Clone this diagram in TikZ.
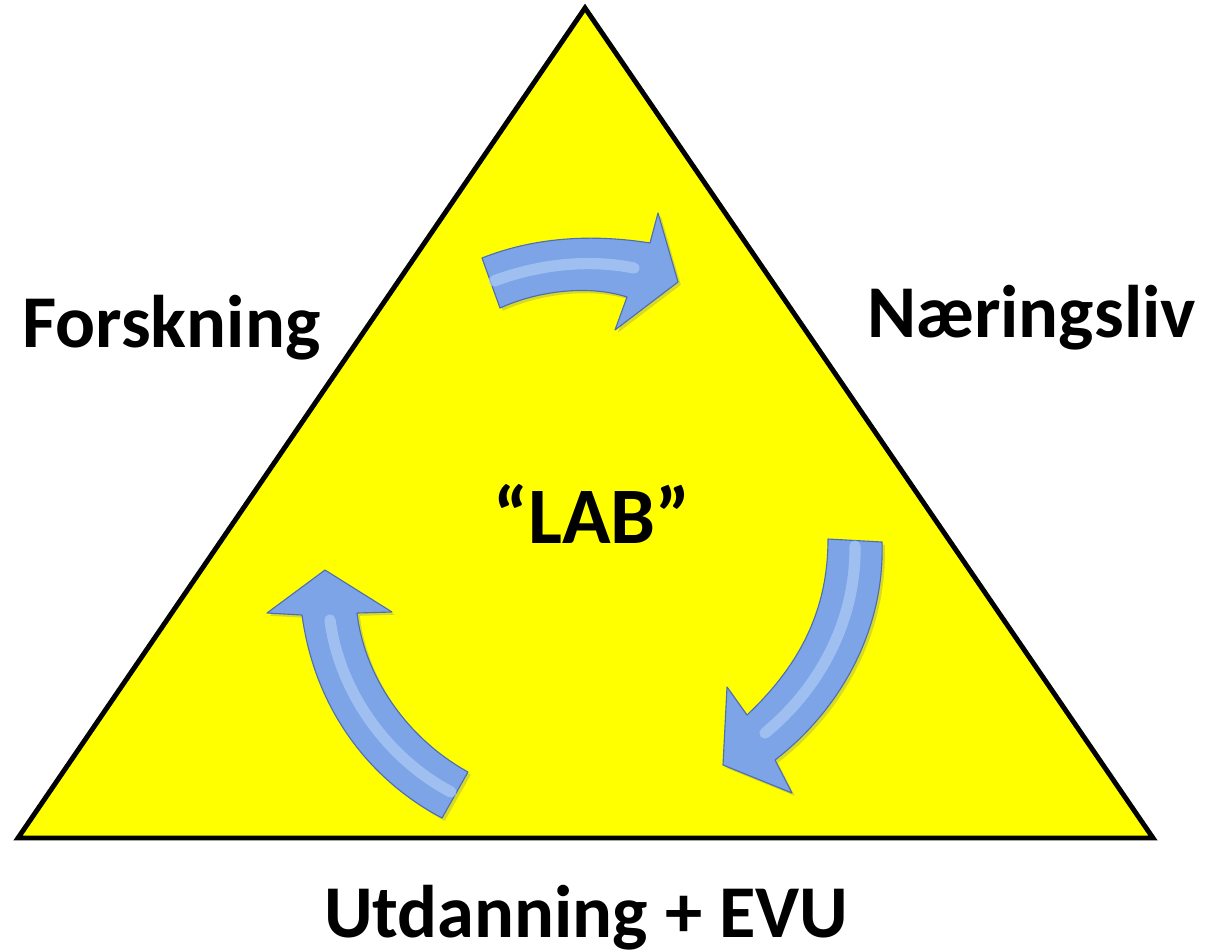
\documentclass[tikz,border=0pt]{standalone}
\usepackage{fontspec}
\setmainfont{Carlito}
\usetikzlibrary{arrows,shadows}
\definecolor{trifill}{RGB}{255,255,0}
\definecolor{arrowblue}{RGB}{124,164,230}
\definecolor{arrowedge}{RGB}{78,110,178}
\definecolor{arrowlight}{RGB}{182,210,248}

\begin{document}
\begin{tikzpicture}[x=0.025cm,y=-0.025cm,
  cornertext/.style={font=\fontsize{53}{60}\selectfont\bfseries, inner sep=0pt},
  bentarrow/.style={fill=arrowblue, draw=arrowedge, line width=0.8pt, line join=round,
    drop shadow={opacity=0.3, shadow xshift=2pt, shadow yshift=-2pt}},
  glint/.style={draw=arrowlight, line width=8pt, line cap=round, opacity=0.6}]
\useasboundingbox (0,0) rectangle (1210,949);
\draw[fill=trifill, line width=3.5pt, line join=miter] (585,8) -- (1153,838) -- (18,838) -- cycle;

\node (forskning) [cornertext, anchor=base west] at (22,347) {Forskning};
\node (naering) [cornertext, anchor=base west] at (867,337) {Næringsliv};
\node (utdanning) [cornertext, anchor=base] at (586,937) {Utdanning + EVU};
\node (lab) [cornertext, font=\fontsize{57}{64}\selectfont\bfseries, anchor=base] at (592,543) {“LAB”};

% top arrow
\path[bentarrow] (482,258) .. controls (540,235) and (600,235) .. (650,243) -- (658,213) -- (678,282)
  -- (615,330) -- (627,297) .. controls (590,285) and (540,290) .. (500,308) -- cycle;
\draw[glint] (494,281) .. controls (545,262) and (595,260) .. (634,268);
% right arrow
\path[bentarrow] (828,539) .. controls (828,610) and (800,665) .. (747,715) -- (727,687) -- (723,765)
  -- (792,793) -- (775,760) .. controls (840,710) and (885,630) .. (882,542) -- cycle;
\draw[glint] (855,546) .. controls (856,620) and (820,688) .. (765,733);
% left arrow
\path[bentarrow] (325,570) -- (392,612) -- (357,613) .. controls (365,680) and (410,740) .. (468,772)
  -- (442,818) .. controls (370,780) and (315,710) .. (302,615) -- (267,613) -- cycle;
\draw[glint] (330,620) .. controls (340,695) and (390,760) .. (451,792);
\end{tikzpicture}
\end{document}
